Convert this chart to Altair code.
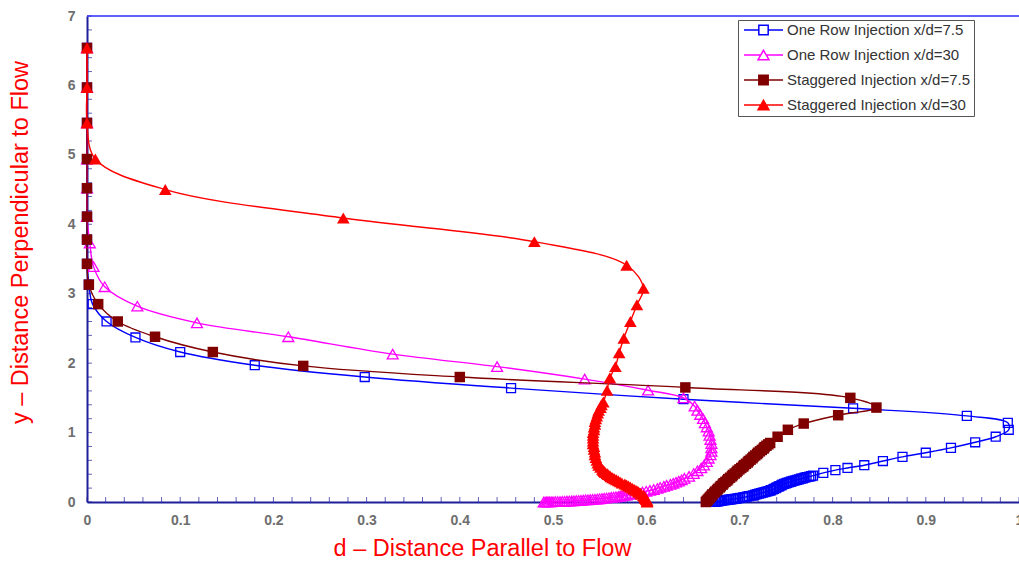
import altair as alt
import pandas as pd

series_names = [
    "One Row Injection x/d=7.5",
    "One Row Injection x/d=30",
    "Staggered Injection x/d=7.5",
    "Staggered Injection x/d=30",
]
series_colors = ["#0000ff", "#ff00ff", "#800000", "#ff0000"]

# One Row Injection x/d=7.5 (open squares)
row75_d = [0, 0, 0, 0, 0, 0, 0, 0, 0.002, 0.006, 0.021, 0.052, 0.100, 0.180, 0.298, 0.455, 0.640,
           0.822, 0.944, 0.988, 0.989, 0.975, 0.953, 0.927, 0.900, 0.875, 0.854, 0.834, 0.816,
           0.803, 0.790,
           0.779, 0.777, 0.775, 0.772, 0.770, 0.768, 0.766, 0.764, 0.762, 0.760, 0.758, 0.756,
           0.755, 0.753, 0.751, 0.750, 0.748, 0.746, 0.745, 0.743, 0.742, 0.740, 0.739, 0.737,
           0.736, 0.734, 0.733, 0.731, 0.729, 0.727, 0.725, 0.723, 0.721, 0.719, 0.717, 0.715,
           0.713, 0.710, 0.708, 0.706, 0.704, 0.701, 0.699, 0.697, 0.695, 0.693, 0.691, 0.689,
           0.687, 0.685, 0.683, 0.681, 0.680, 0.678, 0.677, 0.675, 0.674, 0.672, 0.670]
row75_y = [6.54, 5.97, 5.46, 4.94, 4.52, 4.11, 3.78, 3.43, 3.13, 2.85, 2.60, 2.37, 2.16, 1.97, 1.80,
           1.64, 1.48, 1.35, 1.24, 1.14, 1.04, 0.94, 0.86, 0.78, 0.71, 0.65, 0.59, 0.53, 0.49,
           0.46, 0.42,
           0.38, 0.372, 0.365, 0.357, 0.35, 0.342, 0.335, 0.327, 0.32, 0.312, 0.305, 0.297,
           0.29, 0.282, 0.275, 0.267, 0.26, 0.25, 0.24, 0.23, 0.22, 0.21, 0.20, 0.19,
           0.18, 0.172, 0.165, 0.157, 0.15, 0.142, 0.135, 0.127, 0.12, 0.112, 0.105, 0.097,
           0.09, 0.083, 0.077, 0.071, 0.065, 0.06, 0.055, 0.05, 0.045, 0.041, 0.037, 0.033,
           0.03, 0.026, 0.022, 0.018, 0.015, 0.012, 0.009, 0.007, 0.005, 0.002, 0.0]

# One Row Injection x/d=30 (open triangles)
row30_d = [0, 0, 0, 0, 0, 0, 0.003, 0.007, 0.019, 0.054, 0.118, 0.216, 0.328, 0.440, 0.534, 0.602,
           0.640, 0.652, 0.655, 0.658, 0.661, 0.663, 0.665, 0.667, 0.668, 0.669, 0.670, 0.670,
           0.670, 0.669, 0.667, 0.665, 0.662, 0.659, 0.655, 0.651, 0.646, 0.641,
           0.638, 0.635, 0.632, 0.629, 0.626, 0.622, 0.619, 0.615, 0.612, 0.608, 0.604, 0.600,
           0.596, 0.592, 0.588, 0.583,
           0.579, 0.5765, 0.574, 0.572, 0.570, 0.5675, 0.565, 0.5625, 0.560, 0.5575, 0.555,
           0.5525, 0.550, 0.5475, 0.545, 0.5425, 0.540, 0.5375, 0.535, 0.5325, 0.530, 0.5275,
           0.525, 0.5225, 0.520, 0.5175, 0.515, 0.5125, 0.510, 0.5075, 0.505, 0.5025, 0.500,
           0.498, 0.496, 0.4945, 0.493, 0.4915, 0.490]
row30_y = [6.54, 5.97, 5.46, 4.94, 4.52, 4.11, 3.73, 3.39, 3.10, 2.82, 2.58, 2.38, 2.13, 1.95, 1.77,
           1.61, 1.50, 1.38, 1.32, 1.26, 1.20, 1.14, 1.08, 1.02, 0.96, 0.90, 0.84, 0.78, 0.73,
           0.68, 0.63, 0.58, 0.53, 0.49, 0.45, 0.41, 0.37, 0.34,
           0.32, 0.30, 0.285, 0.27, 0.255, 0.24, 0.225, 0.21, 0.195, 0.18, 0.167, 0.155,
           0.142, 0.13, 0.12, 0.11,
           0.10, 0.095, 0.09, 0.085, 0.08, 0.075, 0.07, 0.066, 0.062, 0.058, 0.055,
           0.051, 0.047, 0.043, 0.04, 0.037, 0.035, 0.032, 0.03, 0.027, 0.025, 0.022,
           0.02, 0.018, 0.016, 0.014, 0.012, 0.010, 0.009, 0.007, 0.006, 0.005, 0.004,
           0.003, 0.002, 0.0015, 0.001, 0.0005, 0.0]

# Staggered Injection x/d=7.5 (filled squares)
stag75_d = [0, 0, 0, 0, 0, 0, 0, 0, 0.002, 0.012, 0.033, 0.073, 0.135, 0.232, 0.400, 0.642, 0.819,
            0.847, 0.806, 0.769, 0.752, 0.741, 0.733,
            0.731, 0.729, 0.727, 0.726, 0.724, 0.722, 0.720, 0.719, 0.717, 0.715, 0.714, 0.712,
            0.710, 0.709, 0.707, 0.705, 0.704, 0.702, 0.700, 0.698, 0.697, 0.695, 0.693, 0.692,
            0.690, 0.688, 0.687, 0.685, 0.683, 0.682, 0.680, 0.679, 0.677, 0.676, 0.674, 0.673,
            0.671, 0.670, 0.669, 0.668, 0.667, 0.666, 0.665, 0.664]
stag75_y = [6.54, 5.97, 5.46, 4.94, 4.52, 4.11, 3.78, 3.43, 3.13, 2.85, 2.60, 2.38, 2.16, 1.96, 1.80,
            1.65, 1.50, 1.36, 1.25, 1.13, 1.04, 0.94, 0.85,
            0.83, 0.81, 0.79, 0.77, 0.75, 0.73, 0.71, 0.69, 0.67, 0.65, 0.63, 0.61,
            0.59, 0.57, 0.55, 0.53, 0.51, 0.49, 0.47, 0.45, 0.43, 0.41, 0.39, 0.37,
            0.35, 0.33, 0.31, 0.29, 0.27, 0.25, 0.23, 0.21, 0.19, 0.17, 0.15, 0.13,
            0.11, 0.09, 0.075, 0.06, 0.045, 0.03, 0.015, 0.0]

# Staggered Injection x/d=30 (filled triangles)
stag30_d = [0, 0, 0, 0.009, 0.084, 0.275, 0.480, 0.579, 0.597, 0.590, 0.583, 0.576, 0.571, 0.567,
            0.561, 0.558, 0.554, 0.552, 0.551, 0.549, 0.548, 0.547, 0.546, 0.545, 0.545, 0.544,
            0.544, 0.543, 0.543, 0.543, 0.543, 0.543, 0.544, 0.544, 0.545, 0.545, 0.546, 0.547,
            0.548, 0.549, 0.551, 0.553, 0.554, 0.555, 0.556, 0.558, 0.559, 0.561, 0.562, 0.564,
            0.566, 0.568, 0.570, 0.572, 0.574, 0.577, 0.579, 0.581, 0.583, 0.585, 0.587, 0.589,
            0.591, 0.592, 0.594, 0.595, 0.597, 0.598, 0.599, 0.599, 0.600, 0.601, 0.601, 0.601]
stag30_y = [6.54, 5.97, 5.46, 4.94, 4.50, 4.09, 3.75, 3.41, 3.08, 2.84, 2.60, 2.36, 2.15, 1.95,
            1.79, 1.61, 1.44, 1.40, 1.36, 1.32, 1.28, 1.24, 1.20, 1.16, 1.12, 1.08, 1.04, 1.00,
            0.96, 0.92, 0.88, 0.84, 0.80, 0.76, 0.72, 0.68, 0.64, 0.60, 0.56, 0.53, 0.50, 0.47,
            0.455, 0.44, 0.425, 0.41, 0.395, 0.38, 0.365, 0.35, 0.335, 0.32, 0.305, 0.29, 0.275,
            0.26, 0.245, 0.23, 0.215, 0.20, 0.185, 0.17, 0.155, 0.14, 0.125, 0.11, 0.095, 0.08,
            0.065, 0.05, 0.035, 0.02, 0.01, 0.0]

x_labels = [0, 0.1, 0.2, 0.3, 0.4, 0.5, 0.6, 0.7, 0.8, 0.9, 1]
y_labels = [0, 1, 2, 3, 4, 5, 6, 7]
x_minor = [i / 50 for i in range(51)]
y_minor = [i / 5 for i in range(36)]
top_frame = [7]

all_d = [row75_d, row30_d, stag75_d, stag30_d]
all_y = [row75_y, row30_y, stag75_y, stag30_y]
rows = []
for name, ds, ys in zip(series_names, all_d, all_y):
    for i, (d, y) in enumerate(zip(ds, ys)):
        rows.append({"series": name, "i": i, "d": d, "y": y})
df = pd.DataFrame(rows)

AXIS_COL = "#1f1f9c"
FONT = "Liberation Sans"

x_enc = alt.X(
    "d:Q",
    scale=alt.Scale(domain=[0, 1], nice=False, zero=False),
    axis=alt.Axis(
        values=x_labels, format="~g", title="d – Distance Parallel to Flow",
        titleFont=FONT, titleFontSize=23.5, titleFontWeight="normal", titleColor="#ff0000",
        titleX=395, titleY=34, titleBaseline="top",
        labelFont=FONT, labelFontSize=14, labelFontWeight="bold", labelColor="#6e6e6e",
        labelPadding=11, labelFlush=False, ticks=False, tickSize=0, grid=False,
        domainColor=AXIS_COL, domainWidth=2,
    ),
)
y_enc = alt.Y(
    "y:Q",
    scale=alt.Scale(domain=[0, 7], nice=False, zero=False),
    axis=alt.Axis(
        values=y_labels, title="y – Distance Perpendicular to Flow",
        titleFont=FONT, titleFontSize=23.5, titleFontWeight="normal", titleColor="#ff0000",
        titleX=-55, titleY=226,
        labelFont=FONT, labelFontSize=14, labelFontWeight="bold", labelColor="#6e6e6e",
        labelPadding=12, ticks=False, tickSize=0, grid=False,
        domainColor=AXIS_COL, domainWidth=2,
    ),
)

layers = []

# inward minor ticks (same field names as the data so the axes merge cleanly)
layers.append(
    alt.Chart(pd.DataFrame({"d": x_minor, "y": [0] * len(x_minor)})).mark_tick(
        orient="vertical", size=5, thickness=1, yOffset=-2.5, color=AXIS_COL)
    .encode(x=x_enc, y=y_enc)
)
layers.append(
    alt.Chart(pd.DataFrame({"y": y_minor, "d": [0] * len(y_minor)})).mark_tick(
        orient="horizontal", size=5, thickness=1, xOffset=2.5, color=AXIS_COL)
    .encode(y=y_enc, x=x_enc)
)
layers.append(
    alt.Chart(pd.DataFrame({"y": top_frame})).mark_rule(color="#2b2bff", strokeWidth=1.5)
    .encode(y=y_enc)
)

marker_styles = [
    dict(shape="square", filled=False, size=80),
    dict(shape="triangle-up", filled=False, size=120),
    dict(shape="square", filled=True, size=110),
    dict(shape="triangle-up", filled=True, size=160),
]

for k, name in enumerate(series_names):
    base = alt.Chart(df).transform_filter(alt.datum.series == name)
    layers.append(
        base.mark_line(interpolate="catmull-rom", strokeWidth=1.4, color=series_colors[k])
        .encode(x=x_enc, y=y_enc, order=alt.Order("i:Q"))
    )
    st = marker_styles[k]
    layers.append(
        base.mark_point(shape=st["shape"], filled=st["filled"], size=st["size"],
                        color=series_colors[k], opacity=1, strokeWidth=1.3)
        .encode(x=x_enc, y=y_enc)
    )

sq_open = "M-1,0H-0.24M0.24,0H1M-0.24,-0.24H0.24V0.24H-0.24Z"
tri_open = "M-1,0H-0.14M0.14,0H1M0,-0.2425L0.28,0.2425L-0.28,0.2425Z"
legend_shapes = [sq_open, tri_open, sq_open, tri_open]
legend_fills = ["#ffffff", "#ffffff", "#800000", "#ff0000"]

leg = alt.Legend(
    title=None, orient="none", legendX=651, legendY=4,
    symbolSize=1521, symbolStrokeWidth=1.5, symbolOffset=2,
    clipHeight=14, rowPadding=10, padding=3, labelOffset=3,
    labelFont=FONT, labelFontSize=15, labelColor="#333333", labelLimit=400,
    strokeColor="#555555", fillColor="#ffffff",
)

legend_df = pd.DataFrame({"series": series_names, "d": [None] * 4, "y": [None] * 4})

layers.append(
    alt.Chart(legend_df).mark_point(filled=True, opacity=1)
    .encode(
        x=x_enc, y=y_enc,
        shape=alt.Shape("series:N", scale=alt.Scale(domain=series_names, range=legend_shapes), legend=leg),
        stroke=alt.Stroke("series:N", scale=alt.Scale(domain=series_names, range=series_colors), legend=leg),
        fill=alt.Fill("series:N", scale=alt.Scale(domain=series_names, range=legend_fills), legend=leg),
    )
)

chart = alt.layer(*layers).properties(
    width=932, height=486,
    autosize=alt.AutoSizeParams(type="none"),
    padding={"left": 87, "top": 16, "right": 0, "bottom": 60},
    background="white",
).configure_view(stroke=None)

chart.save("out.html", embed_options={"renderer": "svg", "actions": False})
